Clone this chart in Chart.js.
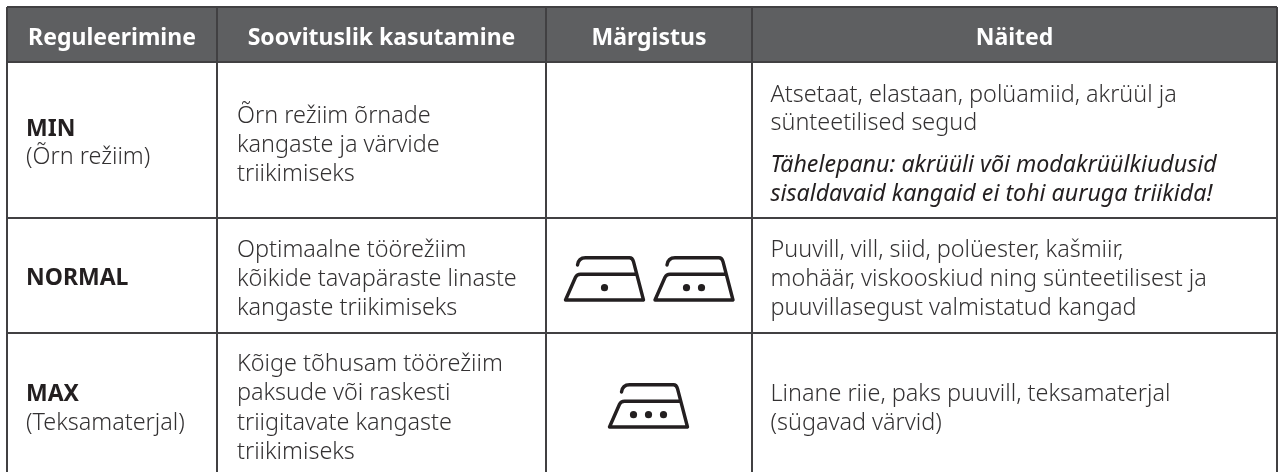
<!DOCTYPE html>
<html>
<head>
<meta charset="utf-8">
<style>
html,body{margin:0;padding:0;background:#fff;}
canvas{display:block;}
</style>
<script src="https://cdn.jsdelivr.net/npm/chart.js@4/dist/chart.umd.min.js"></script>
</head>
<body>
<canvas id="table" width="1281" height="472"></canvas>
<script>
// table content
var headers=['Reguleerimine','Soovituslik kasutamine','Märgistus','Näited'];
var settingNames=['MIN','NORMAL','MAX'];
var settingNotes=['(Õrn režiim)','','(Teksamaterjal)'];
var usageLines=[
  ['Õrn režiim õrnade','kangaste ja värvide','triikimiseks'],
  ['Optimaalne töörežiim','kõikide tavapäraste linaste','kangaste triikimiseks'],
  ['Kõige tõhusam töörežiim','paksude või raskesti','triigitavate kangaste','triikimiseks']
];
var exampleLines=[
  ['Atsetaat, elastaan, polüamiid, akrüül ja','sünteetilised segud'],
  ['Puuvill, vill, siid, polüester, kašmiir,','mohäär, viskooskiud ning sünteetilisest ja','puuvillasegust valmistatud kangad'],
  ['Linane riie, paks puuvill, teksamaterjal','(sügavad värvid)']
];
var warningLines=['Tähelepanu: akrüüli või modakrüülkiudusid','sisaldavaid kangaid ei tohi auruga triikida!'];
var ironDots=[[],[1,2],[3]];

// layout, in canvas pixels
var columnEdges=[7,217,546,752,1277];
var rowEdges=[7,62,218,333,472]; // last one is the crop edge, no rule there
var headerBaseline=45;
var nameBaselines=[136,285,401];
var noteBaselines=[164,0,430];
var usageBaselines=[[122.5,151.5,180.5],[257,286,315],[371,400,430,459]];
var exampleBaselines=[[102,130],[257,286,315],[401,430]];
var warningBaselines=[172,201];
var ironCenters=[[],[604.5,694],[648.5]];
var ironBottoms=[0,300,427];
var nameX=26, usageX=237, exampleX=770.5;

var INK='#231f20';
var fontFamily='"Noto Sans"';
var styles={
  header:{font:'bold 23px '+fontFamily,color:'#fff',align:'center'},
  name:{font:'bold 23px '+fontFamily,color:INK,align:'left'},
  body:{font:'300 23.4px '+fontFamily,color:'#333132',align:'left'},
  warning:{font:'italic 23.2px '+fontFamily,color:INK,align:'left'}
};

function textPoints(){
  var out={header:[],name:[],body:[],warning:[]};
  headers.forEach(function(t,i){ out.header.push({x:(columnEdges[i]+columnEdges[i+1])/2,y:headerBaseline,text:t}); });
  settingNames.forEach(function(t,i){
    out.name.push({x:nameX,y:nameBaselines[i],text:t});
    if(settingNotes[i]) out.body.push({x:nameX,y:noteBaselines[i],text:settingNotes[i]});
  });
  usageLines.forEach(function(lines,r){ lines.forEach(function(t,i){ out.body.push({x:usageX,y:usageBaselines[r][i],text:t}); }); });
  exampleLines.forEach(function(lines,r){ lines.forEach(function(t,i){ out.body.push({x:exampleX,y:exampleBaselines[r][i],text:t}); }); });
  warningLines.forEach(function(t,i){ out.warning.push({x:exampleX,y:warningBaselines[i],text:t}); });
  return out;
}

function ironPoints(){
  var pts=[];
  ironDots.forEach(function(row,r){
    row.forEach(function(n,i){ pts.push({x:ironCenters[r][i],y:ironBottoms[r],dots:n}); });
  });
  return pts;
}

function drawIron(ctx,cx,by,dots){
  ctx.save();
  ctx.translate(cx,by);
  ctx.strokeStyle=INK; ctx.fillStyle=INK;
  ctx.lineWidth=3.4; ctx.lineCap='round'; ctx.lineJoin='round';
  ctx.beginPath();
  ctx.moveTo(-27,-35);
  ctx.quadraticCurveTo(-26,-42.3,-19,-42.3);
  ctx.lineTo(25,-42.3);
  ctx.quadraticCurveTo(28,-42.3,29,-38.3);
  ctx.lineTo(39,0);
  ctx.lineTo(-39,0);
  ctx.lineTo(-29,-22.7);
  ctx.quadraticCurveTo(-27.5,-25.7,-24,-25.7);
  ctx.lineTo(32,-25.7);
  ctx.stroke();
  for(var i=0;i<dots;i++){
    ctx.beginPath();
    ctx.arc((i-(dots-1)/2)*15,-12.3,3.6,0,Math.PI*2);
    ctx.fill();
  }
  ctx.restore();
}

var tableMarks={
  id:'tableMarks',
  afterDatasetsDraw:function(chart){
    var ctx=chart.ctx;
    chart.data.datasets.forEach(function(ds,i){
      var meta=chart.getDatasetMeta(i);
      if(ds.kind==='iron'){
        meta.data.forEach(function(p,j){ drawIron(ctx,p.x,p.y,ds.data[j].dots); });
      }else if(ds.kind==='text'){
        var st=styles[ds.styleName];
        ctx.save();
        ctx.font=st.font; ctx.fillStyle=st.color; ctx.textAlign=st.align; ctx.textBaseline='alphabetic';
        meta.data.forEach(function(p,j){ ctx.fillText(ds.data[j].text,p.x,p.y); });
        ctx.restore();
      }
    });
  }
};

var pts=textPoints();
var datasets=[{
  type:'line',
  data:[{x:columnEdges[0],y:rowEdges[0]},{x:columnEdges[4],y:rowEdges[0]}],
  fill:{value:rowEdges[1]},
  backgroundColor:'#5e5f61',
  borderWidth:0,
  pointRadius:0
},{kind:'iron',data:ironPoints(),pointRadius:0}];
Object.keys(pts).forEach(function(k){
  datasets.push({kind:'text',styleName:k,data:pts[k],pointRadius:0});
});

function ruleAxis(edges,rules,extra){
  var o={
    type:'linear',
    min:edges[0],
    max:edges[edges.length-1],
    afterBuildTicks:function(scale){ scale.ticks=rules.map(function(v){ return {value:v}; }); },
    ticks:{display:false},
    border:{display:false},
    grid:{color:'#414042',lineWidth:2,drawTicks:false,z:1}
  };
  for(var k in extra) o[k]=extra[k];
  return o;
}

document.addEventListener('DOMContentLoaded',function(){
  new Chart(document.getElementById('table').getContext('2d'),{
    type:'scatter',
    data:{datasets:datasets},
    options:{
      responsive:false,
      animation:false,
      events:[],
      layout:{padding:{left:7,top:7,right:4,bottom:0}},
      clip:false,
      plugins:{legend:{display:false},tooltip:{enabled:false}},
      scales:{
        x:ruleAxis(columnEdges,columnEdges),
        y:ruleAxis(rowEdges,rowEdges.slice(0,-1),{reverse:true})
      }
    },
    plugins:[tableMarks]
  });
});
</script>
</body>
</html>
